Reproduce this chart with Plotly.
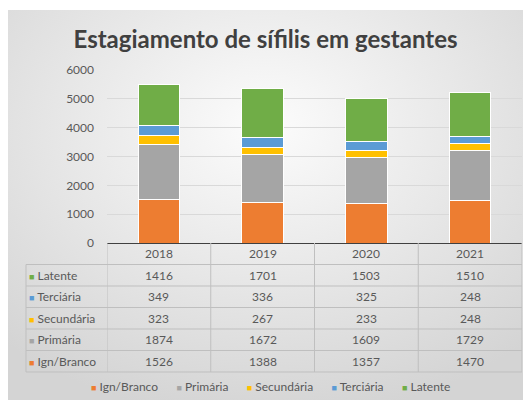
import base64
import plotly.graph_objects as go

years = ["2018", "2019", "2020", "2021"]
ign_branco = [1526, 1388, 1357, 1470]
primaria = [1874, 1672, 1609, 1729]
secundaria = [323, 267, 233, 248]
terciaria = [349, 336, 325, 248]
latente = [1416, 1701, 1503, 1510]

series_names = ["Ign/Branco", "Primária", "Secundária", "Terciária", "Latente"]
series_values = [ign_branco, primaria, secundaria, terciaria, latente]
series_colors = ["#ED7D31", "#A5A5A5", "#FFC000", "#5B9BD5", "#70AD47"]

W, H = 531, 405
PL, PR, PT, PB = 107, 522, 70, 243  # plot area in pixels
FONT = "Lato"
TXT = "#595959"


def px_x(p):
    return (p - PL) / (PR - PL)


def px_y(p):
    return (PB - p) / (PB - PT)


def square(col):
    return f"<span style='color:{col};font-size:9px'>■</span>"


xpos = list(range(len(years)))

fig = go.Figure()
for name, vals, col in zip(series_names, series_values, series_colors):
    fig.add_trace(go.Bar(x=xpos, y=vals, name=name, width=0.4,
                         marker=dict(color=col, line=dict(color="white", width=1)),
                         showlegend=False, hovertext=years))

# background gradient panel
svg = ("<svg xmlns='http://www.w3.org/2000/svg' width='515' height='390' preserveAspectRatio='none'>"
       "<defs><radialGradient id='g' cx='50%' cy='30%' r='75%'>"
       "<stop offset='0' stop-color='#fcfcfc'/><stop offset='1' stop-color='#d4d4d4'/>"
       "</radialGradient></defs><rect width='100%' height='100%' fill='url(#g)'/></svg>")
src = "data:image/svg+xml;base64," + base64.b64encode(svg.encode()).decode()
images = [dict(source=src, xref="paper", yref="paper", x=px_x(8), y=px_y(10),
               sizex=(523 - 8) / (PR - PL), sizey=(400 - 10) / (PB - PT),
               xanchor="left", yanchor="top", sizing="stretch", layer="below")]

# data table
row_edges = [243, 264.5, 286, 307.5, 329, 350.5, 372]
table_left = 26
line_col = "#BFBFBF"
shapes = []
for i, yy in enumerate(row_edges):
    if i == 0:
        continue
    shapes.append(dict(type="line", xref="paper", yref="paper", x0=px_x(table_left), x1=1, y0=px_y(yy), y1=px_y(yy),
                       line=dict(color=line_col, width=1)))
for k in range(len(years) + 1):
    shapes.append(dict(type="line", xref="x", yref="paper", x0=k - 0.5, x1=k - 0.5,
                       y0=px_y(243), y1=px_y(372), line=dict(color=line_col, width=1)))
shapes.append(dict(type="line", xref="paper", yref="paper", x0=px_x(table_left), x1=px_x(table_left),
                   y0=px_y(264.5), y1=px_y(372), line=dict(color=line_col, width=1)))

annotations = []
for j, yr in enumerate(years):
    annotations.append(dict(x=xpos[j], xref="x", y=px_y((row_edges[0] + row_edges[1]) / 2), yref="paper",
                            xanchor="center", yanchor="middle",
                            text=yr, showarrow=False, font=dict(family=FONT, size=12, color=TXT)))
rows = list(zip(series_names, series_values, series_colors))[::-1]
for r, (name, vals, col) in enumerate(rows):
    yc = px_y((row_edges[r + 1] + row_edges[r + 2]) / 2)
    annotations.append(dict(x=px_x(27), xref="paper", y=yc, yref="paper", xanchor="left", yanchor="middle",
                            text=f"{square(col)} {name}", showarrow=False,
                            font=dict(family=FONT, size=12, color=TXT)))
    for j in range(len(years)):
        annotations.append(dict(x=xpos[j], xref="x", y=yc, yref="paper", xanchor="center", yanchor="middle",
                                text=str(vals[j]), showarrow=False,
                                font=dict(family=FONT, size=12, color=TXT)))

# legend
legend_text = "      ".join(f"{square(c)} {n}" for n, c in zip(series_names, series_colors))
annotations.append(dict(x=px_x(270), xref="paper", y=px_y(386), yref="paper", xanchor="center",
                        yanchor="middle", text=legend_text,
                        showarrow=False, font=dict(family=FONT, size=12, color=TXT)))

fig.update_layout(
    width=W, height=H,
    margin=dict(l=PL, r=W - PR, t=PT, b=H - PB),
    paper_bgcolor="white", plot_bgcolor="rgba(0,0,0,0)",
    barmode="stack",
    title=dict(text="Estagiamento de sífilis em gestantes", x=0.5, xanchor="center",
               y=1 - 40 / H, yanchor="middle", font=dict(family=FONT, size=24, color="#404040", weight="bold")),
    xaxis=dict(type="linear", range=[-0.5, len(years) - 0.5], showticklabels=False, showline=True,
               linecolor="#404040", linewidth=1, ticks="", showgrid=False, zeroline=False, fixedrange=True),
    yaxis=dict(range=[0, 6000], dtick=1000, showgrid=True, gridcolor="#D9D9D9", gridwidth=1,
               zeroline=False, showline=False, ticks="", ticklabelstandoff=12,
               tickfont=dict(family=FONT, size=12, color=TXT)),
    images=images, shapes=shapes, annotations=annotations,
    font=dict(family=FONT),
)

fig.write_html("out.html", config={"displayModeBar": False},
               post_script="document.body.style.margin='0';")
